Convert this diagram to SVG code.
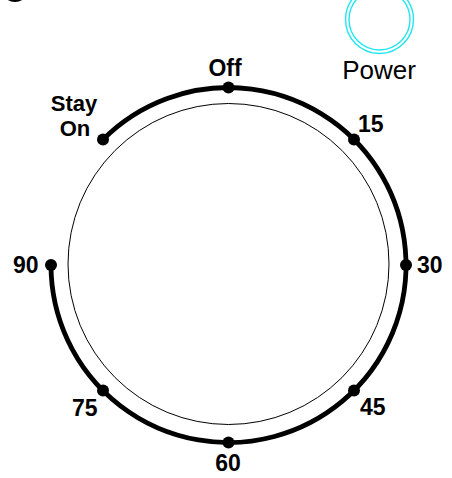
<svg xmlns="http://www.w3.org/2000/svg" width="452" height="478" viewBox="0 0 452 478">
<style>
.lbl{font-family:"Liberation Sans",Arial,sans-serif;font-weight:bold;font-size:23px;fill:#000}
.sm{font-size:22px}
.pw{font-family:"Liberation Sans",Arial,sans-serif;font-size:26px;fill:#000}
.dot{fill:#000}
.ring{fill:none;stroke:#22e6ee;stroke-width:1.4}
</style>
<rect width="452" height="478" fill="#fff"/>
<circle cx="15" cy="-12" r="14" fill="#000"/>
<g id="power">
<circle class="ring" cx="379.5" cy="19.5" r="34"/>
<circle class="ring" cx="379.5" cy="19.5" r="30.5"/>
<text class="pw" x="379" y="79" text-anchor="middle">Power</text>
</g>
<g id="dial-face">
<circle cx="228.5" cy="264" r="160.5" fill="none" stroke="#000" stroke-width="1"/>
</g>
<g id="connectors">
<path d="M 51 265 A 177.5 177.5 0 1 0 103 139.5" fill="none" stroke="#000" stroke-width="4.8"/>
</g>
<g id="stay-on"><circle class="dot" cx="103" cy="139.5" r="6"/><text class="lbl sm" x="74" y="111" text-anchor="middle">Stay</text><text class="lbl sm" x="75" y="136" text-anchor="middle">On</text></g>
<g id="off"><circle class="dot" cx="228.5" cy="87.5" r="6"/><text class="lbl" x="225" y="76" text-anchor="middle">Off</text></g>
<g id="t15"><circle class="dot" cx="354" cy="139.5" r="6"/><text class="lbl" x="358" y="132">15</text></g>
<g id="t30"><circle class="dot" cx="406" cy="265" r="6"/><text class="lbl" x="417" y="273">30</text></g>
<g id="t45"><circle class="dot" cx="354" cy="390.5" r="6"/><text class="lbl" x="360" y="415">45</text></g>
<g id="t60"><circle class="dot" cx="228.5" cy="442.5" r="6"/><text class="lbl" x="228" y="471" text-anchor="middle">60</text></g>
<g id="t75"><circle class="dot" cx="103" cy="390.5" r="6"/><text class="lbl" x="72" y="416">75</text></g>
<g id="t90"><circle class="dot" cx="51" cy="265" r="6"/><text class="lbl" x="13" y="273">90</text></g>
</svg>
